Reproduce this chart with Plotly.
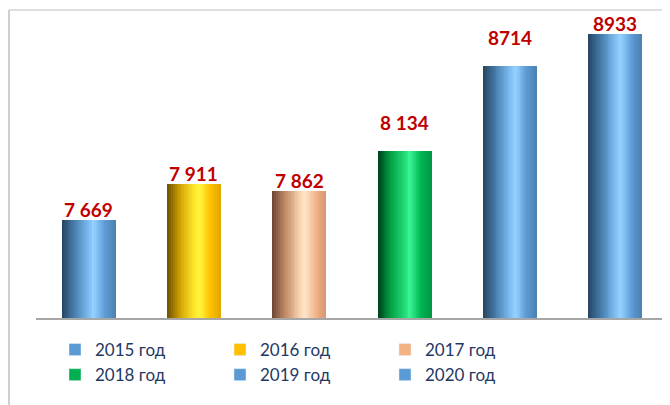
import plotly.graph_objects as go

# ---- data ----
years = ["2015 год", "2016 год", "2017 год", "2018 год", "2019 год", "2020 год"]
values = [7669, 7911, 7862, 8134, 8714, 8933]
labels = ["7 669", "7 911", "7 862", "8 134", "8714", "8933"]

# ---- style ----
# page body has an 8px margin, so the figure is 8px smaller than the window
W, H = 662, 397
ML, MT, MB, MR = 28, 2, 87, 0
legend_colors = ["#5B9BD5", "#FFC000", "#F4B183", "#00B050", "#5B9BD5", "#5B9BD5"]
gradients = {
    "#5B9BD5": [(0, "#27445F"), (0.22, "#4479A9"), (0.5, "#7DBDF2"), (0.6, "#95D2FF"),
                (0.8, "#5E9CD6"), (1, "#4B7FB0")],
    "#FFC000": [(0, "#6B4F00"), (0.22, "#CE9C00"), (0.5, "#FFE52A"), (0.6, "#FFF53C"),
                (0.8, "#FFC400"), (1, "#DEA600")],
    "#F4B183": [(0, "#6A4634"), (0.22, "#BE8664"), (0.5, "#F7D0AC"), (0.6, "#FFE6C9"),
                (0.8, "#F5B488"), (1, "#D59770")],
    "#00B050": [(0, "#003F1C"), (0.22, "#009A3E"), (0.5, "#22DC78"), (0.6, "#3CF595"),
                (0.8, "#00B752"), (1, "#009543")],
}
label_shift = [-3, -3, -3, 15, 15, -3]
bar_w = 0.51
N = 28


def hex2rgb(h):
    h = h.lstrip("#")
    return tuple(int(h[i:i + 2], 16) for i in (0, 2, 4))


def grad_color(stops, t):
    for (t0, c0), (t1, c1) in zip(stops, stops[1:]):
        if t <= t1:
            f = (t - t0) / (t1 - t0) if t1 > t0 else 0
            a, b = hex2rgb(c0), hex2rgb(c1)
            return "rgb(%d,%d,%d)" % tuple(round(a[k] + (b[k] - a[k]) * f) for k in range(3))
    return stops[-1][1]


fig = go.Figure()
sw = bar_w / N
for i in range(N):
    t = (i + 0.5) / N
    cols = [grad_color(gradients[c], t) for c in legend_colors]
    fig.add_trace(go.Bar(
        x=years, y=values, base=0,
        width=sw * 1.08, offset=-bar_w / 2 + i * sw,
        marker=dict(color=cols, line=dict(width=0)),
        showlegend=False, hoverinfo="skip",
    ))

for name, c in zip(years, legend_colors):
    fig.add_trace(go.Bar(x=[None], y=[None], name=name, marker_color=c,
                         showlegend=True))

for x, v, lab, s in zip(years, values, labels, label_shift):
    fig.add_annotation(x=x, y=v, text="<b>%s</b>" % lab, showarrow=False,
                       yanchor="bottom", yshift=s,
                       font=dict(family="Lato, Arial", size=19, color="#C00000"))

pw = W - ML - MR
ph = H - MT - MB
# frame (left and top lines)
fx = (1 - ML) / pw
fig.add_shape(type="line", xref="paper", yref="paper", x0=fx, x1=1.01, y0=1.0, y1=1.0,
              line=dict(color="#BFBFBF", width=1))
fig.add_shape(type="line", xref="paper", yref="paper", x0=fx, x1=fx, y0=1.0,
              y1=-(MB + 2) / ph, line=dict(color="#BFBFBF", width=1.5))

fig.update_layout(
    width=W, height=H,
    margin=dict(l=ML, r=MR, t=MT, b=MB),
    paper_bgcolor="white", plot_bgcolor="white",
    barmode="overlay", bargap=0,
    xaxis=dict(categoryorder="array", categoryarray=years, range=[-0.5, 5.52],
               showticklabels=False, ticks="", showgrid=False, zeroline=False,
               showline=True, linecolor="#A6A6A6", linewidth=2),
    yaxis=dict(range=[7000, 9093], visible=False, showgrid=False),
    showlegend=True,
    legend=dict(orientation="h", x=(47 - ML) / pw, xanchor="left",
                y=-(14) / ph, yanchor="top",
                entrywidth=120, entrywidthmode="pixels",
                font=dict(family="Lato, Arial", size=17, color="#1F3864"),
                bgcolor="rgba(0,0,0,0)", itemclick=False),
)

fig.write_html("out.html")
